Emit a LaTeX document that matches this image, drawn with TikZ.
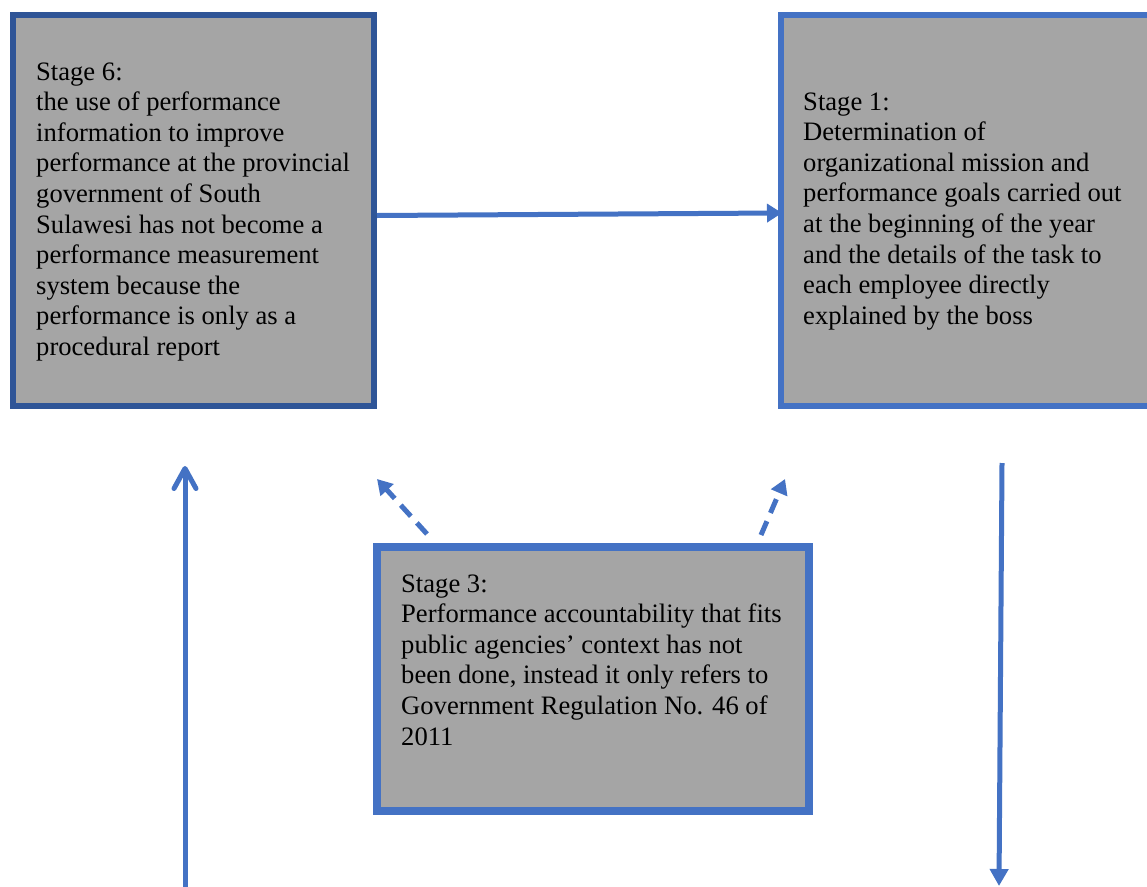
\documentclass[tikz,border=0pt]{standalone}
\usepackage{fontspec}
\setmainfont{Liberation Serif}
\usetikzlibrary{arrows.meta,calc}
\definecolor{accblue}{HTML}{4472C4}
\definecolor{darkblue}{HTML}{2F5597}
\definecolor{boxgray}{HTML}{A5A5A5}
\newcommand{\stagetext}[1]{\parbox[t]{420pt}{\fontsize{26.6pt}{30.6pt}\selectfont\raggedright #1}}
\tikzset{
  stagebox/.style={draw=accblue, fill=boxgray, line width=6pt, rectangle, inner sep=0pt},
  stagetxt/.style={anchor=base west, inner sep=0pt, text=black},
  conn/.style={draw=accblue, line width=5pt},
  dashconn/.style={draw=accblue, line width=5pt, dash pattern=on 15pt off 9pt, -{Triangle[length=15pt,width=17pt]}},
}
\begin{document}
\begin{tikzpicture}[x=1pt,y=-1pt]
\useasboundingbox (0,0) rectangle (1147,886);
\clip (0,0) rectangle (1147,886);
\fill[white] (0,0) rectangle (1147,886);
% boxes
\node[stagebox, draw=darkblue, minimum width=361pt, minimum height=391pt] (s6) at (193.5,210.5) {};
\node[stagebox, minimum width=379pt, minimum height=391pt] (s1) at (970.5,210.5) {};
\node[stagebox, line width=8pt, minimum width=432pt, minimum height=264pt] (s3) at (593,679) {};
% texts
\node[stagetxt] (t6) at (36,80) {\stagetext{Stage 6:\\
the use of performance\\
information to improve\\
performance at the provincial\\
government of South\\
Sulawesi has not become a\\
performance measurement\\
system because the\\
performance is only as a\\
procedural report}};
\node[stagetxt] (t1) at (803,110) {\stagetext{Stage 1:\\
Determination of\\
organizational mission and\\
performance goals carried out\\
at the beginning of the year\\
and the details of the task to\\
each employee directly\\
explained by the boss}};
\node[stagetxt] (t3) at (401,592) {\stagetext{Stage 3:\\
Performance accountability that fits\\
public agencies’ context has not\\
been done, instead it only refers to\\
Government Regulation No. 46 of\\
2011}};
% free ends
\coordinate (upbot) at (185,892);
\coordinate (uptop) at (185,466);
\coordinate (dntop) at (1002,463);
\coordinate (dnbot) at (999,886);
\coordinate (ltip) at (377,479);
\coordinate (rtip) at (785,479);
% connectors
\draw[conn, -{Triangle[length=15pt,width=18pt]}, shorten >=-4pt] ([yshift=-5pt]s6.east) -- ([yshift=-2.5pt]s1.west);
\draw[conn, -{Straight Barb[length=20pt,width=22pt,line cap=round,line join=round]}] (upbot) -- (uptop);
\draw[conn, -{Triangle[length=17pt,width=18pt]}] (dntop) -- (dnbot);
\draw[dashconn] ($(s3.north west)+(54,-9)$) -- (ltip);
\draw[dashconn] ($(s3.north east)+(-52,-8)$) -- (rtip);
\end{tikzpicture}
\end{document}
